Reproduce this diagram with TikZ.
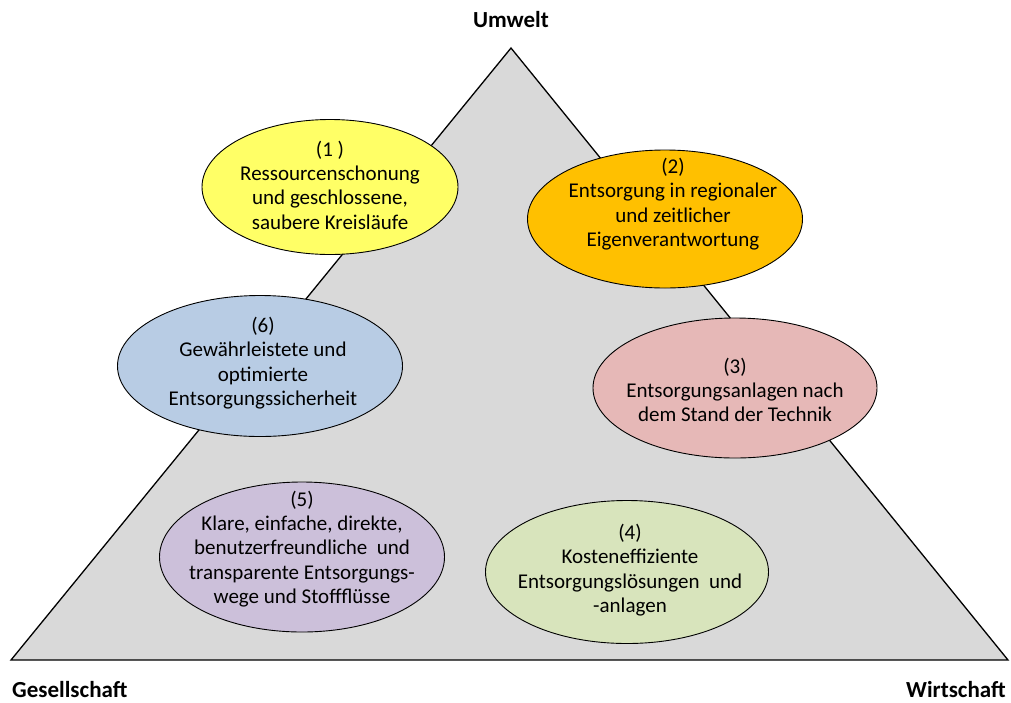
\documentclass[tikz,border=0pt]{standalone}
\usepackage{fontspec}
\setmainfont{Carlito}
\usetikzlibrary{shapes.geometric}
\definecolor{triGray}{HTML}{D9D9D9}
\definecolor{cYellow}{HTML}{FFFF66}
\definecolor{cGold}{HTML}{FFC000}
\definecolor{cRose}{HTML}{E6B8B7}
\definecolor{cGreen}{HTML}{D8E4BC}
\definecolor{cLilac}{HTML}{CCC0DA}
\definecolor{cBlue}{HTML}{B8CCE4}
\tikzset{
  goal/.style={ellipse, draw=black, line width=0.9pt, inner sep=0pt},
  goaltext/.style={align=center, font=\fontsize{21}{24.3}\selectfont, inner sep=0pt},
  corner/.style={font=\fontsize{23}{26}\selectfont\bfseries, inner sep=0pt}
}
\begin{document}
\begin{tikzpicture}[x=1pt,y=-1pt]
\useasboundingbox (0,0) rectangle (1011,702);
% triangle
\coordinate (top) at (511,48);
\coordinate (bl) at (11,660);
\coordinate (br) at (1008,660);
\draw[fill=triGray, line width=1.3pt, line join=miter] (top) -- (bl) -- (br) -- cycle;
% corner labels
\node[corner] (umwelt) at (511,20) {Umwelt};
\node[corner, anchor=west] (gesell) at (12,690) {Gesellschaft};
\node[corner, anchor=east] (wirt) at (1006,690) {Wirtschaft};
% ellipses
\node[goal, fill=cYellow, minimum width=256, minimum height=135] (e1) at (330,187) {};
\node[goal, fill=cGold, minimum width=275, minimum height=138] (e2) at (665,219) {};
\node[goal, fill=cBlue, minimum width=285, minimum height=141] (e6) at (260,366) {};
\node[goal, fill=cRose, minimum width=284, minimum height=140] (e3) at (735,388) {};
\node[goal, fill=cLilac, minimum width=285, minimum height=150] (e5) at (302,557) {};
\node[goal, fill=cGreen, minimum width=283, minimum height=143] (e4) at (627,572) {};
% texts
\node[goaltext] (t1) at (330,185) {(1 )\\Ressourcenschonung\\und geschlossene,\\saubere Kreisläufe};
\node[goaltext] (t2) at (673,204) {(2)\\Entsorgung in regionaler\\und zeitlicher\\Eigenverantwortung};
\node[goaltext] (t6) at (263,363) {(6)\\Gewährleistete und\\optimierte\\Entsorgungssicherheit};
\node[goaltext] (t3) at (735,390) {(3)\\Entsorgungsanlagen nach\\dem Stand der Technik};
\node[goaltext] (t5) at (302,549) {(5)\\Klare, einfache, direkte,\\benutzerfreundliche\ \ und\\transparente Entsorgungs-\\wege und Stoffflüsse};
\node[goaltext] (t4) at (630,570) {(4)\\Kosteneffiziente\\Entsorgungslösungen\ \ und\\-anlagen};
\end{tikzpicture}
\end{document}
